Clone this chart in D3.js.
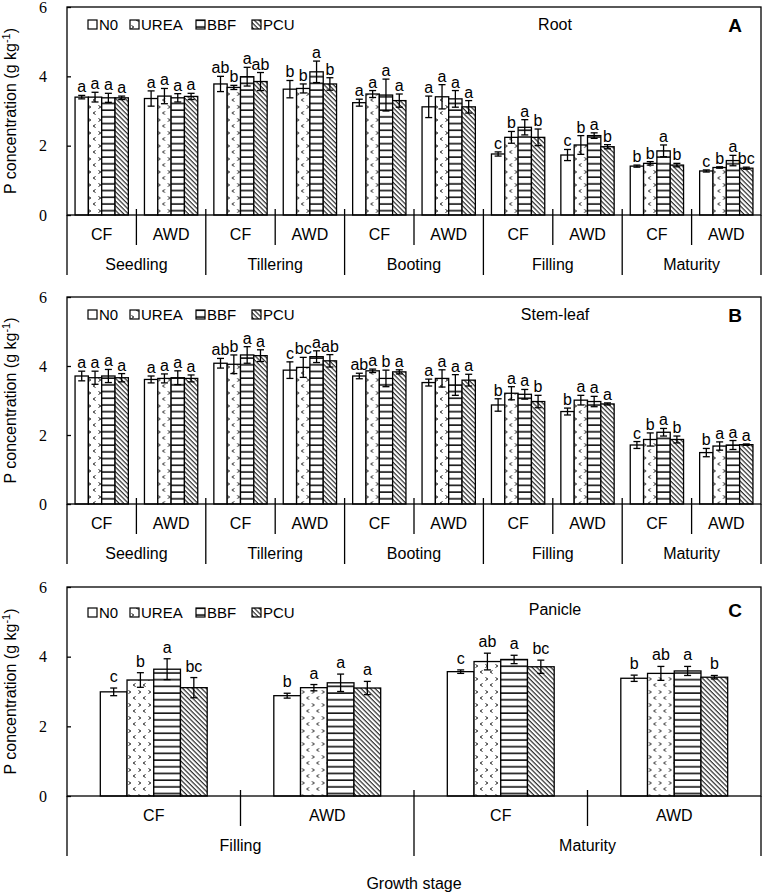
<!DOCTYPE html>
<html>
<head>
<meta charset="utf-8">
<script src="https://cdn.jsdelivr.net/npm/d3@7"></script>
<style>
body { margin: 0; background: #fff; }
text { font-family: "Liberation Sans", Arial, sans-serif; fill: #000; }
text.num { font-family: "Liberation Serif", "Times New Roman", serif; }
</style>
</head>
<body>
<div id="chart"></div>
<script>
var treatments = ["N0", "UREA", "BBF", "PCU"];
var regimes = ["CF", "AWD"];
var stagesAB = ["Seedling", "Tillering", "Booting", "Filling", "Maturity"];
var stagesC = ["Filling", "Maturity"];
var yTicks = [0, 2, 4, 6];

// one row per stage x regime (CF, AWD), columns = treatments
var rootMean = [
    [3.40, 3.40, 3.38, 3.38], [3.36, 3.43, 3.38, 3.42],
    [3.78, 3.68, 3.99, 3.85], [3.63, 3.65, 4.13, 3.78],
    [3.24, 3.49, 3.46, 3.30], [3.12, 3.41, 3.35, 3.12],
    [1.76, 2.24, 2.53, 2.24], [1.73, 2.02, 2.29, 1.97],
    [1.41, 1.49, 1.85, 1.44], [1.27, 1.37, 1.57, 1.35]
];
var rootErr = [
    [0.05, 0.14, 0.13, 0.05], [0.22, 0.22, 0.12, 0.09],
    [0.22, 0.06, 0.27, 0.26], [0.25, 0.13, 0.31, 0.18],
    [0.10, 0.10, 0.46, 0.19], [0.31, 0.35, 0.24, 0.18],
    [0.06, 0.17, 0.22, 0.24], [0.16, 0.27, 0.08, 0.06],
    [0.03, 0.05, 0.17, 0.05], [0.03, 0.02, 0.15, 0.03]
];
var rootLetters = [
    ["a", "a", "a", "a"], ["a", "a", "a", "a"],
    ["ab", "b", "a", "ab"], ["b", "b", "a", "b"],
    ["a", "a", "a", "a"], ["a", "a", "a", "a"],
    ["c", "b", "a", "b"], ["c", "b", "a", "b"],
    ["b", "b", "a", "b"], ["c", "b", "a", "bc"]
];

var stemMean = [
    [3.71, 3.66, 3.71, 3.66], [3.61, 3.64, 3.66, 3.64],
    [4.08, 4.05, 4.32, 4.30], [3.88, 3.96, 4.27, 4.15],
    [3.71, 3.86, 3.64, 3.83], [3.52, 3.64, 3.45, 3.59],
    [2.87, 3.21, 3.18, 2.97], [2.68, 3.01, 2.97, 2.90],
    [1.71, 1.87, 2.08, 1.87], [1.49, 1.68, 1.71, 1.72]
];
var stemErr = [
    [0.14, 0.19, 0.19, 0.12], [0.10, 0.13, 0.20, 0.10],
    [0.14, 0.27, 0.24, 0.17], [0.24, 0.29, 0.17, 0.18],
    [0.08, 0.05, 0.24, 0.06], [0.10, 0.25, 0.30, 0.17],
    [0.18, 0.19, 0.14, 0.18], [0.10, 0.14, 0.15, 0.03],
    [0.10, 0.19, 0.11, 0.10], [0.12, 0.12, 0.13, 0.02]
];
var stemLetters = [
    ["a", "a", "a", "a"], ["a", "a", "a", "a"],
    ["ab", "b", "a", "a"], ["c", "bc", "a", "ab"],
    ["ab", "a", "b", "a"], ["a", "a", "a", "a"],
    ["b", "a", "a", "b"], ["b", "a", "a", "a"],
    ["c", "b", "a", "b"], ["b", "a", "a", "a"]
];

var panicleMean = [
    [2.99, 3.33, 3.64, 3.11], [2.88, 3.11, 3.25, 3.10],
    [3.57, 3.86, 3.92, 3.71], [3.38, 3.52, 3.59, 3.41]
];
var panicleErr = [
    [0.11, 0.21, 0.30, 0.29], [0.07, 0.09, 0.25, 0.19],
    [0.05, 0.24, 0.12, 0.19], [0.09, 0.20, 0.13, 0.05]
];
var panicleLetters = [
    ["c", "b", "a", "bc"], ["b", "a", "a", "a"],
    ["c", "ab", "a", "bc"], ["b", "ab", "a", "b"]
];

var svgWidth = 765;
var svgHeight = 896;
var left = 67, right = 761;

var svg = d3.select("#chart")
    .append("svg")
    .attr("width", svgWidth)
    .attr("height", svgHeight);

// fill patterns, one per treatment
var defs = svg.append("defs");

var pUrea = defs.append("pattern").attr("id", "pat-UREA")
    .attr("patternUnits", "userSpaceOnUse").attr("width", 10).attr("height", 13);
pUrea.append("rect").attr("width", 10).attr("height", 13).attr("fill", "#fff");
pUrea.append("path").attr("d", "M1.5,1.5 L3.8,3 L1.5,4.5 M8.5,7.5 L6.2,9 L8.5,10.5")
    .attr("fill", "none").attr("stroke", "#000").attr("stroke-width", 0.9);

var pBbf = defs.append("pattern").attr("id", "pat-BBF")
    .attr("patternUnits", "userSpaceOnUse").attr("width", 8).attr("height", 6.7);
pBbf.append("rect").attr("width", 8).attr("height", 6.7).attr("fill", "#fff");
pBbf.append("line").attr("x1", 0).attr("x2", 8).attr("y1", 3).attr("y2", 3)
    .attr("stroke", "#000").attr("stroke-width", 1.5);

var pPcu = defs.append("pattern").attr("id", "pat-PCU")
    .attr("patternUnits", "userSpaceOnUse").attr("width", 3.3).attr("height", 10)
    .attr("patternTransform", "rotate(-45)");
pPcu.append("rect").attr("width", 3.3).attr("height", 10).attr("fill", "#fff");
pPcu.append("line").attr("x1", 1).attr("x2", 1).attr("y1", 0).attr("y2", 10)
    .attr("stroke", "#000").attr("stroke-width", 1);

function fillFor(t) {
    return t === "N0" ? "#fff" : "url(#pat-" + t + ")";
}

var panels = [
    {tag: "A", name: "Root", top: 7, bottom: 215, stages: stagesAB, means: rootMean, errs: rootErr,
     letters: rootLetters, pad: 0.116, gap: 3, legendY: 17, titleY: 23},
    {tag: "B", name: "Stem-leaf", top: 297, bottom: 504, stages: stagesAB, means: stemMean, errs: stemErr,
     letters: stemLetters, pad: 0.116, gap: 3, legendY: 17, titleY: 23},
    {tag: "C", name: "Panicle", top: 587, bottom: 796, stages: stagesC, means: panicleMean, errs: panicleErr,
     letters: panicleLetters, pad: 0.192, gap: 6, legendY: 25, titleY: 28}
];

panels.forEach(function(p) {
    var g = svg.append("g");

    var groups = [];
    p.stages.forEach(function(s) {
        regimes.forEach(function(r) { groups.push(s + "|" + r); });
    });

    var x0 = d3.scaleBand().domain(groups).range([left, right]);
    var inner = x0.bandwidth() * p.pad;
    var x1 = d3.scaleBand().domain(treatments).range([inner, x0.bandwidth() - inner]);
    var yScale = d3.scaleLinear().domain([0, 6]).range([p.bottom, p.top]);

    // bars, error bars and letters
    groups.forEach(function(key, gi) {
        var gg = g.append("g").attr("transform", `translate(${x0(key)},0)`);
        var rows = treatments.map(function(t, ti) {
            return {t: t, v: p.means[gi][ti], e: p.errs[gi][ti], l: p.letters[gi][ti]};
        });

        gg.selectAll("rect")
            .data(rows)
            .enter()
            .append("rect")
            .attr("x", d => x1(d.t))
            .attr("y", d => yScale(d.v))
            .attr("width", x1.bandwidth())
            .attr("height", d => yScale(0) - yScale(d.v))
            .attr("fill", d => fillFor(d.t))
            .attr("stroke", "#000")
            .attr("stroke-width", 1.3);

        var eb = gg.selectAll("g.err")
            .data(rows)
            .enter()
            .append("g")
            .attr("class", "err")
            .attr("transform", d => `translate(${x1(d.t) + x1.bandwidth() / 2},0)`)
            .attr("stroke", "#000")
            .attr("stroke-width", 1.3);
        eb.append("line").attr("x1", 0).attr("x2", 0)
            .attr("y1", d => yScale(d.v + d.e)).attr("y2", d => yScale(d.v - d.e));
        eb.append("line").attr("x1", -3.5).attr("x2", 3.5)
            .attr("y1", d => yScale(d.v + d.e)).attr("y2", d => yScale(d.v + d.e));
        eb.append("line").attr("x1", -3.5).attr("x2", 3.5)
            .attr("y1", d => yScale(d.v - d.e)).attr("y2", d => yScale(d.v - d.e));

        gg.selectAll("text.sig")
            .data(rows)
            .enter()
            .append("text")
            .attr("class", "sig")
            .attr("x", d => x1(d.t) + x1.bandwidth() / 2)
            .attr("y", d => yScale(d.v + d.e) - p.gap)
            .attr("text-anchor", "middle")
            .style("font-size", "16px")
            .text(d => d.l);
    });

    // plot frame
    g.append("rect")
        .attr("x", left).attr("y", p.top)
        .attr("width", right - left).attr("height", p.bottom - p.top)
        .attr("fill", "none").attr("stroke", "#000").attr("stroke-width", 1.3);

    // y axis with inward ticks
    var leftAxis = d3.axisLeft(yScale).tickValues(yTicks).tickFormat(d3.format("d"))
        .tickSize(-4).tickPadding(20);
    var ya = g.append("g").attr("transform", `translate(${left},0)`).call(leftAxis);
    ya.select(".domain").remove();
    ya.selectAll(".tick line").attr("stroke", "#000").attr("stroke-width", 1.3);
    ya.selectAll(".tick text")
        .attr("class", "num")
        .style("font-size", "16px")
        .attr("fill", "#000");

    // y axis title
    var yt = g.append("text")
        .attr("transform", `translate(16,${(p.top + p.bottom) / 2}) rotate(-90)`)
        .attr("text-anchor", "middle")
        .style("font-size", "16px");
    yt.append("tspan").text("P concentration (g kg");
    yt.append("tspan").attr("dy", -6).style("font-size", "11px").text("-1");
    yt.append("tspan").attr("dy", 6).text(")");

    // two-level category axis
    var y0 = p.bottom;
    var cat = g.append("g").attr("stroke", "#000").attr("stroke-width", 1.3);
    p.stages.forEach(function(s, si) {
        var xs = x0(s + "|CF");
        cat.append("line").attr("x1", xs).attr("x2", xs)
            .attr("y1", si === 0 ? y0 : y0 - 6).attr("y2", y0 + 60);
        var xa = x0(s + "|AWD");
        cat.append("line").attr("x1", xa).attr("x2", xa)
            .attr("y1", y0 - 6).attr("y2", y0 + 30);
    });
    cat.append("line").attr("x1", right).attr("x2", right).attr("y1", y0).attr("y2", y0 + 60);

    g.selectAll("text.reg")
        .data(groups)
        .enter()
        .append("text")
        .attr("class", "reg")
        .attr("x", d => x0(d) + x0.bandwidth() / 2)
        .attr("y", y0 + 25)
        .attr("text-anchor", "middle")
        .style("font-size", "16px")
        .text(d => d.split("|")[1]);

    g.selectAll("text.stage")
        .data(p.stages)
        .enter()
        .append("text")
        .attr("class", "stage")
        .attr("x", d => x0(d + "|CF") + x0.bandwidth())
        .attr("y", y0 + 55)
        .attr("text-anchor", "middle")
        .style("font-size", "16px")
        .text(d => d);

    // legend
    var legX = [88, 130, 196, 252];
    var leg = g.selectAll("g.leg")
        .data(treatments)
        .enter()
        .append("g")
        .attr("class", "leg")
        .attr("transform", (d, i) => `translate(${legX[i]},${p.top + p.legendY})`);
    leg.append("rect")
        .attr("x", 0).attr("y", -4).attr("width", 9).attr("height", 9)
        .attr("fill", d => fillFor(d))
        .attr("stroke", "#000").attr("stroke-width", 1.2);
    leg.append("text")
        .attr("x", 11).attr("y", 6)
        .style("font-size", "15px")
        .text(d => d);

    // organ name and panel tag
    g.append("text")
        .attr("x", 555).attr("y", p.top + p.titleY)
        .attr("text-anchor", "middle")
        .style("font-size", "16px")
        .text(p.name);
    g.append("text")
        .attr("x", 735).attr("y", p.top + p.titleY + 2)
        .attr("text-anchor", "middle")
        .style("font-size", "19px")
        .style("font-weight", "bold")
        .text(p.tag);
});

svg.append("text")
    .attr("x", (left + right) / 2)
    .attr("y", 889)
    .attr("text-anchor", "middle")
    .style("font-size", "16px")
    .text("Growth stage");
</script>
</body>
</html>
